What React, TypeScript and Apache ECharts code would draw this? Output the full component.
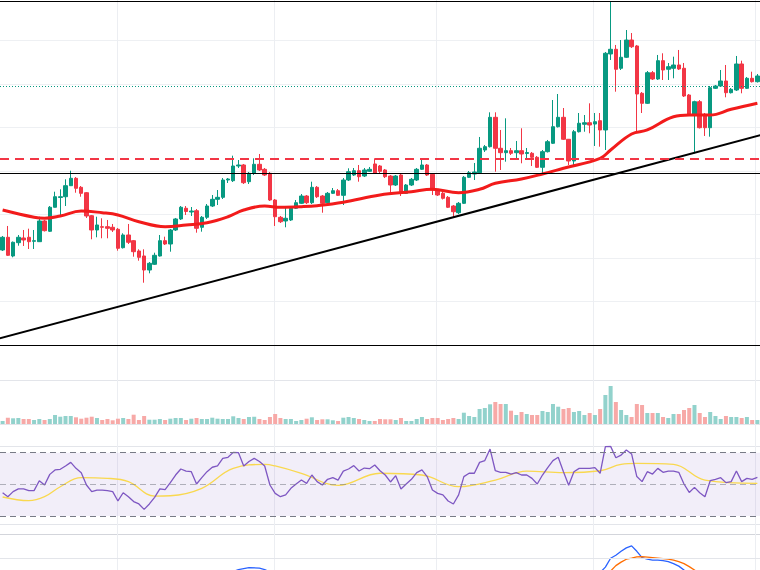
import React, { useEffect, useRef } from "react";
import * as echarts from "echarts";

// ---- price candles (open, close, low, high) ----
const opens = [
  21.84, 24.76, 20.46, 23.52, 24.6, 24.76, 23.84, 23.75, 28.51, 26.14,
  31.66, 33.91, 34.09, 36.62, 38.32, 36.25, 35.01, 29.72, 26.44, 27.2,
  27.2, 27.06, 26.6, 22.37, 25.29, 23.98, 21.61, 20.46, 17.24, 18.55,
  20.46, 23.98, 23.22, 26.44, 28.97, 31.43, 30.57, 30.87, 27.06, 29.36,
  31.95, 33.49, 33.95, 37.93, 37.77, 41.15, 41.38, 37.54, 39.47, 41.54,
  40.39, 39.47, 33.33, 29.36, 28.51, 28.74, 31.43, 32.57, 34.25, 32.71,
  36.25, 34.25, 32.71, 34.87, 35.47, 34.41, 37.93, 39.08, 40.07, 38.85,
  39.93, 41.61, 41.15, 40.23, 38.85, 36.78, 39.08, 34.87, 36.78, 37.93,
  40.39, 41.38, 39.24, 35.63, 34.87, 33.95, 31.95, 30.41, 32.57, 38.55,
  39.31, 39.61, 44.83, 45.59, 52.34, 45.22, 44.21, 44.67, 44.21, 44.67,
  44.02, 44.07, 43.15, 40.85, 44.44, 46.37, 50.18, 52.34, 47.29, 42.3,
  49.03, 50.74, 51.1, 50.8, 51.56, 49.43, 66.9, 67.98, 63.61, 66.14,
  70.11, 68.74, 57.86, 55.56, 62.6, 61.15, 65.36, 63.38, 63.61, 64.37,
  63.61, 57.47, 52.87, 55.93, 53.03, 49.95, 59.01, 59.54, 60.69, 58.0,
  58.62, 64.6, 59.01, 61.31, 60.53,
];
const closes = [
  24.76, 20.62, 23.61, 24.76, 24.14, 23.75, 23.98, 28.51, 26.28, 31.66,
  34.09, 34.09, 36.62, 38.32, 36.02, 34.87, 29.66, 26.44, 27.59, 27.06,
  26.83, 26.44, 22.23, 25.29, 23.61, 21.45, 20.16, 17.24, 18.78, 20.62,
  23.98, 23.22, 26.44, 28.97, 31.66, 30.69, 30.8, 26.83, 29.36, 31.95,
  33.49, 33.95, 37.93, 38.16, 41.15, 41.38, 37.31, 39.47, 41.54, 40.23,
  39.08, 33.33, 29.49, 28.34, 29.13, 31.43, 32.71, 34.25, 32.71, 36.25,
  34.09, 32.57, 34.87, 35.47, 34.41, 37.93, 39.84, 40.07, 38.69, 40.23,
  40.39, 39.47, 39.93, 38.69, 36.78, 38.85, 35.24, 36.78, 38.09, 40.39,
  41.38, 39.08, 35.63, 34.48, 33.72, 31.66, 30.64, 32.57, 38.55, 39.61,
  39.77, 45.22, 45.59, 52.34, 45.22, 44.21, 44.67, 44.07, 44.67, 43.91,
  44.25, 43.15, 40.85, 44.44, 46.74, 50.18, 52.34, 47.29, 42.3, 49.03,
  50.97, 51.1, 50.57, 51.33, 49.43, 67.06, 67.98, 63.38, 66.14, 70.11,
  68.57, 57.7, 55.56, 62.6, 61.15, 65.36, 63.22, 63.98, 64.37, 63.45,
  57.24, 53.1, 55.93, 49.95, 49.95, 59.15, 59.54, 60.69, 58.0, 58.78,
  64.6, 59.01, 61.31, 60.53, 61.84,
];
const lows = [
  21.61, 20.46, 20.16, 22.83, 22.76, 22.07, 22.07, 23.68, 26.09, 25.98,
  31.61, 29.66, 31.95, 36.55, 35.01, 34.09, 29.2, 24.3, 24.76, 24.53,
  24.53, 25.98, 21.68, 22.18, 23.22, 20.3, 19.38, 14.32, 16.48, 18.39,
  20.34, 22.99, 21.45, 26.21, 28.74, 29.89, 29.66, 25.82, 26.05, 28.97,
  31.72, 32.18, 33.56, 37.24, 37.47, 40.69, 37.01, 37.01, 39.08, 40.0,
  38.85, 33.1, 27.36, 28.05, 27.06, 28.51, 31.26, 32.41, 32.41, 32.41,
  33.79, 30.41, 32.41, 34.71, 34.25, 32.18, 37.7, 38.85, 37.54, 38.62,
  39.77, 39.31, 39.54, 38.39, 34.94, 36.55, 34.25, 34.71, 36.55, 37.7,
  40.23, 38.85, 34.48, 34.25, 33.45, 31.49, 29.43, 30.11, 32.41, 38.39,
  37.93, 39.43, 44.37, 45.4, 39.84, 40.23, 42.14, 43.68, 42.53, 41.77,
  42.99, 41.15, 40.69, 39.08, 44.25, 46.21, 50.0, 47.13, 41.38, 41.15,
  48.85, 49.03, 48.67, 45.75, 45.59, 44.83, 65.52, 58.23, 63.22, 65.98,
  68.28, 49.03, 53.33, 55.4, 60.92, 60.92, 60.92, 60.92, 61.31, 63.22,
  57.01, 52.87, 44.07, 49.77, 48.05, 47.89, 58.85, 59.31, 56.94, 57.82,
  58.39, 57.86, 58.85, 60.34, 60.34,
];
const highs = [
  25.06, 27.36, 23.79, 25.29, 26.44, 26.74, 26.44, 29.49, 28.74, 31.95,
  35.24, 35.79, 38.09, 40.07, 38.62, 36.55, 35.17, 29.89, 29.49, 29.13,
  28.74, 27.82, 26.9, 25.68, 27.82, 24.14, 22.0, 22.0, 19.08, 21.22,
  25.29, 24.9, 26.67, 29.2, 31.95, 31.95, 31.72, 31.26, 29.66, 32.41,
  34.48, 35.63, 38.39, 38.39, 43.52, 42.53, 41.61, 39.77, 42.92, 43.91,
  40.69, 39.77, 33.56, 29.66, 31.79, 31.72, 33.33, 34.71, 34.48, 37.54,
  36.55, 34.48, 35.17, 36.09, 35.86, 38.39, 40.62, 40.69, 41.38, 40.69,
  40.92, 42.92, 41.38, 40.46, 39.08, 39.08, 39.31, 37.01, 38.39, 40.69,
  42.53, 41.61, 39.54, 35.86, 35.17, 34.25, 32.18, 32.87, 38.85, 40.0,
  41.84, 47.82, 45.98, 53.49, 53.49, 49.43, 52.11, 45.29, 46.9, 49.82,
  45.29, 44.37, 43.45, 44.83, 47.13, 56.32, 57.7, 54.48, 47.36, 49.43,
  53.33, 52.87, 55.56, 53.33, 53.33, 67.36, 79.08, 68.97, 70.11, 72.41,
  71.72, 68.97, 58.16, 62.99, 62.99, 66.67, 67.06, 64.83, 66.28, 67.82,
  64.83, 57.7, 56.16, 56.32, 53.33, 59.54, 59.77, 63.22, 64.37, 59.08,
  66.44, 65.36, 61.61, 62.83, 62.3,
];

// ---- volume ----
const volumes = [
  3, 6.3, 5.7, 6, 5, 5, 4, 5, 4, 5,
  9, 7.3, 8, 8, 6.7, 5.3, 6.3, 7.3, 6, 4,
  5, 3.7, 5.3, 6, 5, 9.3, 4, 8, 4.3, 4.3,
  5, 4, 5.3, 6, 6, 4, 5.3, 6, 5, 5,
  6.3, 5.3, 5, 5, 7.7, 6, 5, 7, 7.3, 5,
  4, 7, 10, 6, 5, 5, 3, 4, 5.3, 6.7,
  4, 4.7, 4.7, 3.7, 3, 6.3, 7, 6, 5, 4,
  3, 3, 5, 4.7, 4.7, 4, 6, 3, 3, 5,
  7, 5, 6, 6, 4, 5, 6, 5, 11.3, 8,
  7, 15, 16, 19.7, 22, 20, 20, 13.3, 9, 12,
  10, 9, 9, 13, 12, 20, 17.3, 15, 16, 12,
  13, 9, 11, 9, 15, 29, 38, 22, 14, 9,
  7, 20, 19, 11, 11, 11, 7, 6, 10, 10,
  14, 16, 19, 11, 7, 12, 8, 5, 8, 7,
  7, 6, 7, 4, 4,
];

// ---- RSI and its moving average ----
const rsi = [
  44.7, 42.2, 45.4, 47.1, 47.1, 46.0, 46.0, 52.3, 49.6, 56.3,
  59.1, 59.5, 61.6, 63.9, 60.1, 57.4, 49.6, 45.4, 46.4, 46.4,
  46.0, 45.4, 39.5, 44.7, 42.2, 39.1, 37.6, 34.2, 37.6, 41.8,
  47.1, 46.6, 51.1, 55.9, 59.7, 58.4, 58.0, 50.2, 54.2, 58.0,
  60.8, 61.6, 66.4, 67.1, 70.2, 70.0, 61.6, 64.4, 66.4, 64.4,
  61.6, 49.6, 44.3, 42.2, 43.3, 47.5, 50.2, 52.7, 50.6, 55.9,
  51.7, 49.6, 53.2, 54.2, 52.7, 58.4, 59.7, 61.8, 58.4, 60.3,
  59.9, 62.2, 58.6, 55.9, 51.5, 55.5, 47.1, 50.2, 53.2, 57.4,
  59.1, 54.9, 46.4, 44.3, 43.3, 39.5, 37.6, 43.3, 54.9, 57.0,
  57.0, 63.9, 65.0, 72.3, 58.6, 57.6, 57.6, 56.5, 57.4, 55.9,
  55.9, 53.8, 50.2, 55.9, 60.6, 65.0, 67.1, 58.0, 49.4, 58.0,
  60.1, 60.1, 60.1, 60.6, 57.0, 73.8, 74.0, 66.8, 68.5, 71.7,
  69.2, 54.9, 51.7, 58.0, 56.5, 60.1, 57.6, 58.4, 58.4, 57.6,
  50.2, 44.9, 48.1, 44.7, 42.2, 52.3, 53.2, 54.2, 51.1, 51.7,
  58.4, 51.7, 53.8, 53.2, 54.4,
];
const rsiMa = [
  [0, 42.0], [5, 39.7], [8, 42.2], [11, 48.5], [15, 54.2], [20, 53.8],
  [24, 51.7], [29, 42.6], [32, 42.8], [38, 47.5], [44, 60.1], [50, 62.6],
  [52, 61.6], [57, 57.0], [64, 49.4], [72, 57.0], [80, 55.9], [87, 48.5],
  [94, 52.7], [100, 58.4], [107, 57.4], [114, 58.6], [118, 62.6],
  [121, 63.2], [128, 62.6], [134, 52.7], [144, 50.6],
];

// ---- price moving average (sampled) ----
const priceMa = [
  [0, 31.03], [6, 29.36], [8, 29.13], [11, 29.66], [15, 30.8], [19, 30.41],
  [22, 29.89], [26, 28.34], [31, 27.2], [35, 27.59], [39, 28.11], [43, 29.49],
  [46, 31.03], [50, 31.95], [53, 31.66], [57, 31.79], [60, 32.02], [65, 32.8],
  [72, 34.48], [78, 35.24], [82, 35.79], [87, 35.01], [91, 35.79], [94, 37.17],
  [99, 38.16], [103, 39.31], [107, 40.62], [114, 42.92], [116, 44.83],
  [120, 48.51], [123, 49.43], [128, 52.48], [131, 52.87], [135, 52.87],
  [139, 54.18], [144, 55.56],
];

// ---- MACD (only the top of this pane is visible) ----
const macdLine = [
  [43, 0.2], [45, 0.28], [47, 0.32], [49, 0.31], [50, 0.28], [52, 0.18],
  [113, 0.15], [114, 0.22], [115, 0.33], [116, 0.51], [117, 0.57], [118, 0.65],
  [119, 0.72], [120, 0.76], [121, 0.65], [122, 0.52], [123, 0.49], [124, 0.47],
  [125, 0.47], [126, 0.46], [127, 0.44], [128, 0.4], [129, 0.35], [130, 0.27],
  [131, 0.2],
];
const signalLine = [
  [115, 0.18], [116, 0.25], [117, 0.36], [118, 0.43], [119, 0.49], [120, 0.51],
  [121, 0.535], [122, 0.54], [123, 0.53], [124, 0.52], [125, 0.51], [126, 0.5],
  [127, 0.49], [128, 0.47], [129, 0.44], [130, 0.4], [131, 0.34], [132, 0.27],
  [133, 0.2],
];
const macdGridLevel = 0.5;

// ---- drawings ----
const trendLine = [[-1, 1.38], [145, 48.36]];
const supportLevel = 39.54;
const resistanceLevel = 42.87;
const lastPriceLevel = 59.54;
const monthStarts = [22, 52, 83, 113, 144];

const categories = opens.map((_, i) => String(i + 1));

const UP = "#089981";
const DOWN = "#f23645";

export default function App() {
  const ref = useRef<HTMLDivElement>(null);

  useEffect(() => {
    if (!ref.current) return;
    const chart = echarts.init(ref.current, undefined, { renderer: "svg" });

    const candleData = opens.map((o, i) => [o, closes[i], lows[i], highs[i]]);
    const volData = volumes.map((v, i) => ({
      value: v,
      itemStyle: { color: closes[i] >= opens[i] ? "#92d2cc" : "#f7a9a7" },
    }));

    const hiddenX = (gridIndex: number) => ({
      type: "category",
      gridIndex,
      data: categories,
      boundaryGap: true,
      axisLine: { show: false },
      axisTick: { show: false },
      axisLabel: { show: false },
      splitLine: { show: false },
    });
    const noLabel = {
      axisLine: { show: false },
      axisTick: { show: false },
      axisLabel: { show: false },
    };

    const option: any = {
      animation: false,
      backgroundColor: "#ffffff",
      grid: [
        { left: 0, width: 761, top: 1, height: 344 },
        { left: 0, width: 761, top: 380, height: 44 },
        { left: 0, width: 761, top: 446, height: 78 },
        { left: 0, width: 761, top: 534, height: 36 },
        { left: 2.624, width: 761, top: 0, height: 570 },
      ],
      xAxis: [
        {
          type: "category",
          gridIndex: 0,
          data: categories,
          boundaryGap: true,
          z: 6,
          axisLine: { show: true, onZero: false, lineStyle: { color: "#000000", width: 1 } },
          axisTick: { show: false },
          axisLabel: { show: false },
          splitLine: { show: false },
        },
        {
          type: "category",
          gridIndex: 0,
          position: "top",
          data: categories,
          boundaryGap: true,
          z: 6,
          axisLine: { show: true, onZero: false, lineStyle: { color: "#000000", width: 1 } },
          axisTick: { show: false },
          axisLabel: { show: false },
          splitLine: { show: false },
        },
        hiddenX(1),
        hiddenX(2),
        hiddenX(3),
        {
          type: "category",
          gridIndex: 4,
          data: categories,
          boundaryGap: true,
          axisLine: { show: false },
          axisTick: { show: false },
          axisLabel: { show: false },
          splitLine: {
            show: true,
            interval: (idx: number) => monthStarts.includes(idx),
            lineStyle: { color: "#eceef2", width: 1 },
          },
        },
      ],
      yAxis: [
        {
          type: "value",
          gridIndex: 0,
          min: 0,
          max: 79.08,
          interval: 10,
          ...noLabel,
          splitLine: { show: true, lineStyle: { color: "#eef0f3", width: 1 } },
        },
        {
          type: "value",
          gridIndex: 1,
          min: 0,
          max: 44,
          interval: 44,
          ...noLabel,
          splitLine: { show: true, lineStyle: { color: "#e3e5ea", width: 1 } },
        },
        {
          type: "value",
          gridIndex: 2,
          min: 24.94,
          max: 74.23,
          interval: 49.29,
          ...noLabel,
          splitLine: { show: true, lineStyle: { color: "#e3e5ea", width: 1 } },
        },
        {
          type: "value",
          gridIndex: 3,
          min: 0.2713,
          max: 1,
          interval: 0.7287,
          ...noLabel,
          splitLine: {
            show: true,
            lineStyle: { color: ["#e3e5ea", "#d3d5db"], width: 1 },
          },
        },
        { type: "value", gridIndex: 4, min: 0, max: 1, show: false },
      ],
      series: [
        {
          type: "candlestick",
          name: "Price",
          xAxisIndex: 0,
          yAxisIndex: 0,
          data: candleData,
          barWidth: 4,
          silent: true,
          itemStyle: {
            color: UP,
            color0: DOWN,
            borderColor: UP,
            borderColor0: DOWN,
            borderWidth: 1,
          },
          markLine: {
            silent: true,
            symbol: "none",
            label: { show: false },
            data: [
              { yAxis: supportLevel, lineStyle: { color: "#000000", width: 1, type: "solid" } },
              { yAxis: resistanceLevel, lineStyle: { color: DOWN, width: 2, type: [9, 6] } },
              { yAxis: lastPriceLevel, lineStyle: { color: UP, width: 1, type: [1, 2] } },
            ],
          },
        },
        {
          type: "line",
          name: "MA",
          xAxisIndex: 0,
          yAxisIndex: 0,
          data: priceMa,
          smooth: 0.4,
          symbol: "none",
          silent: true,
          z: 3,
          lineStyle: { color: "#f21b1b", width: 3 },
        },
        {
          type: "line",
          name: "Trend",
          xAxisIndex: 0,
          yAxisIndex: 0,
          data: trendLine,
          symbol: "none",
          silent: true,
          clip: true,
          z: 4,
          lineStyle: { color: "#000000", width: 2 },
        },
        {
          type: "bar",
          name: "Volume",
          xAxisIndex: 2,
          yAxisIndex: 1,
          data: volData,
          barWidth: 4,
          silent: true,
        },
        {
          type: "line",
          name: "RSI",
          xAxisIndex: 3,
          yAxisIndex: 2,
          data: rsi,
          symbol: "none",
          silent: true,
          z: 4,
          lineStyle: { color: "#7e57c2", width: 1.3 },
          markArea: {
            silent: true,
            itemStyle: { color: "rgba(126,87,194,0.1)" },
            data: [[{ yAxis: 30 }, { yAxis: 70 }]],
          },
          markLine: {
            silent: true,
            symbol: "none",
            label: { show: false },
            data: [
              { yAxis: 70, lineStyle: { color: "#787b86", width: 1, type: [6, 4] } },
              { yAxis: 50, lineStyle: { color: "rgba(120,123,134,0.55)", width: 1, type: [6, 4] } },
              { yAxis: 30, lineStyle: { color: "#787b86", width: 1, type: [6, 4] } },
            ],
          },
        },
        {
          type: "line",
          name: "RSI MA",
          xAxisIndex: 3,
          yAxisIndex: 2,
          data: rsiMa,
          smooth: 0.4,
          symbol: "none",
          silent: true,
          z: 3,
          lineStyle: { color: "#f9d84f", width: 1.3 },
        },
        {
          type: "line",
          name: "MACD",
          xAxisIndex: 4,
          yAxisIndex: 3,
          data: macdLine,
          symbol: "none",
          silent: true,
          clip: true,
          lineStyle: { color: "#2962ff", width: 1.3 },
          markLine: {
            silent: true,
            symbol: "none",
            label: { show: false },
            data: [{ yAxis: macdGridLevel, lineStyle: { color: "#e3e5ea", width: 1, type: "solid" } }],
          },
        },
        {
          type: "line",
          name: "Signal",
          xAxisIndex: 4,
          yAxisIndex: 3,
          data: signalLine,
          symbol: "none",
          silent: true,
          clip: true,
          lineStyle: { color: "#ff6d00", width: 1.3 },
        },
      ],
    };

    chart.setOption(option);
    return () => {
      chart.dispose();
    };
  }, []);

  return (
    <div
      ref={ref}
      style={{ position: "fixed", left: 0, top: 0, width: 760, height: 570, background: "#fff" }}
    />
  );
}
